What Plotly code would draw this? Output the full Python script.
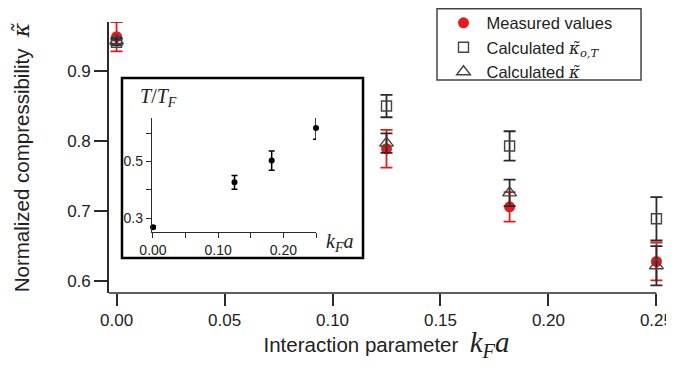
import plotly.graph_objects as go

# ---- data ----
kfa = [0.0, 0.125, 0.182, 0.25]
measured = [0.949, 0.789, 0.706, 0.628]
measured_err = [0.021, 0.027, 0.021, 0.027]
kappa_oT = [0.941, 0.850, 0.793, 0.689]
kappa_oT_err = [0.004, 0.016, 0.021, 0.031]
kappa_calc = [0.943, 0.797, 0.726, 0.622]
kappa_calc_err = [0.004, 0.014, 0.019, 0.028]
T_TF = [0.268, 0.426, 0.503, 0.618]
T_TF_err = [0.005, 0.024, 0.034, 0.040]

x_ticks = [0.0, 0.05, 0.10, 0.15, 0.20, 0.25]
x_ticktext = ["0.00", "0.05", "0.10", "0.15", "0.20", "0.25"]
y_ticks = [0.6, 0.7, 0.8, 0.9]
y_ticktext = ["0.6", "0.7", "0.8", "0.9"]
inset_x_ticks = [0.0, 0.10, 0.20]
inset_x_ticktext = ["0.00", "0.10", "0.20"]
inset_x_minor = [0.05, 0.15, 0.25]
inset_y_ticks = [0.3, 0.5]
inset_y_ticktext = ["0.3", "0.5"]
inset_y_minor = [0.4, 0.6]

X_MIN, X_AXIS_END, X_MAX = -0.0035, 0.25, 0.2535

SANS = "Liberation Sans, Arial, sans-serif"
SERIF = "Liberation Serif"
RED = "#e41a1c"
DARK = "#2a2a2a"
GRAY = "#444444"

KAPPA = "<span style='font-family:DejaVu Serif'><i>κ̃</i></span>"

fig = go.Figure()

fig.add_trace(go.Scatter(
    x=kfa, y=measured, mode="markers", name="Measured values",
    marker=dict(symbol="circle", size=11, color=RED),
    error_y=dict(type="data", array=measured_err, color=RED, thickness=1.8, width=6),
    cliponaxis=False,
))
fig.add_trace(go.Scatter(
    x=kfa, y=kappa_oT, mode="markers",
    name="Calculated " + "<span style='font-family:DejaVu Serif'><i>κ̃</i><sub><i>o,T</i></sub></span>",
    marker=dict(symbol="square-open", size=10, color=GRAY, line=dict(width=1.4, color=GRAY)),
    error_y=dict(type="data", array=kappa_oT_err, color=DARK, thickness=1.8, width=6),
    cliponaxis=False,
))
fig.add_trace(go.Scatter(
    x=kfa, y=kappa_calc, mode="markers",
    name="Calculated " + KAPPA,
    marker=dict(symbol="triangle-up-open", size=12, color=GRAY, line=dict(width=1.4, color=GRAY)),
    error_y=dict(type="data", array=kappa_calc_err, color=DARK, thickness=1.8, width=6),
    cliponaxis=False,
))

# inset trace
fig.add_trace(go.Scatter(
    x=kfa, y=T_TF, mode="markers", showlegend=False,
    xaxis="x2", yaxis="y2",
    marker=dict(symbol="circle", size=6, color="black"),
    error_y=dict(type="data", array=T_TF_err, color="black", thickness=1.5, width=3),
    cliponaxis=False,
))

fig.update_layout(
    width=666, height=354,
    margin=dict(l=101, r=10, t=14, b=69, autoexpand=False),
    paper_bgcolor="white", plot_bgcolor="white",
    font=dict(family=SANS, size=17, color="#222"),
    xaxis=dict(
        domain=[0, 1], range=[X_MIN, X_MAX],
        tickvals=x_ticks, ticktext=x_ticktext,
        ticks="outside", ticklen=12, tickwidth=1.6, tickcolor=DARK,
        showline=False,
        showgrid=False, zeroline=False,
        tickfont=dict(size=17),
        title=dict(
            text="Interaction parameter  <span style='font-family:Liberation Serif;font-size:29px'><i>k</i><sub><i>F</i></sub><i>a</i></span>",
            font=dict(size=20.5), standoff=10,
        ),
    ),
    yaxis=dict(
        domain=[0, 1], range=[0.583, 0.97],
        tickvals=y_ticks, ticktext=y_ticktext,
        ticks="outside", ticklen=13, tickwidth=1.6, tickcolor=DARK,
        showline=True, linewidth=1.6, linecolor=DARK,
        showgrid=False, zeroline=False,
        tickfont=dict(size=17),
        title=dict(
            text="Normalized compressibility  <span style='font-family:DejaVu Serif;font-size:22px'><i>κ̃</i></span>",
            font=dict(size=20.5), standoff=32,
        ),
    ),
    xaxis2=dict(
        domain=[0.0775, 0.3730], anchor="y2", range=[-0.0015, 0.25],
        tickvals=inset_x_ticks, ticktext=inset_x_ticktext,
        ticks="outside", ticklen=5, tickwidth=1.4, tickcolor=DARK,
        minor=dict(tickvals=inset_x_minor, ticks="outside", ticklen=5, tickwidth=1.4, tickcolor=DARK),
        showline=True, linewidth=1.4, linecolor=DARK,
        showgrid=False, zeroline=False, tickfont=dict(size=14),
    ),
    yaxis2=dict(
        domain=[0.2251, 0.6458], anchor="x2", range=[0.251, 0.653],
        tickvals=inset_y_ticks, ticktext=inset_y_ticktext,
        ticks="outside", ticklen=5, tickwidth=1.4, tickcolor=DARK,
        minor=dict(tickvals=inset_y_minor, ticks="outside", ticklen=5, tickwidth=1.4, tickcolor=DARK),
        showline=True, linewidth=1.4, linecolor=DARK,
        showgrid=False, zeroline=False, tickfont=dict(size=14),
    ),
    legend=dict(
        x=0.5973, y=1.0606, xanchor="left", yanchor="top",
        borderwidth=0, bgcolor="rgba(0,0,0,0)",
        font=dict(size=16.5, family=SANS), itemwidth=36,
        tracegroupgap=0,
    ),
    shapes=[
        # main x-axis line (ends at the last tick, like the reference)
        dict(type="line", xref="x", yref="paper",
             x0=X_MIN, x1=X_AXIS_END, y0=0, y1=0,
             line=dict(color=DARK, width=1.6)),
        # inset frame
        dict(type="rect", xref="paper", yref="paper",
             x0=0.0234, x1=0.4577, y0=0.1292, y1=0.7934,
             line=dict(color="black", width=2.5), layer="below"),
        # legend frame
        dict(type="rect", xref="paper", yref="paper",
             x0=0.591, x1=0.9586, y0=0.7860, y1=1.0487,
             line=dict(color=GRAY, width=1.5), layer="below"),
    ],
    annotations=[
        dict(text="<i>T</i>/<i>T</i><sub><i>F</i></sub>", xref="paper", yref="paper",
             x=0.0892, y=0.7196, xanchor="center", yanchor="middle", showarrow=False,
             font=dict(family=SERIF, size=20, color="#222")),
        dict(text="<i>k</i><sub><i>F</i></sub><i>a</i>", xref="paper", yref="paper",
             x=0.4162, y=0.188, xanchor="center", yanchor="middle", showarrow=False,
             font=dict(family=SERIF, size=20, color="#222")),
    ],
)

fig.write_html("out.html")
